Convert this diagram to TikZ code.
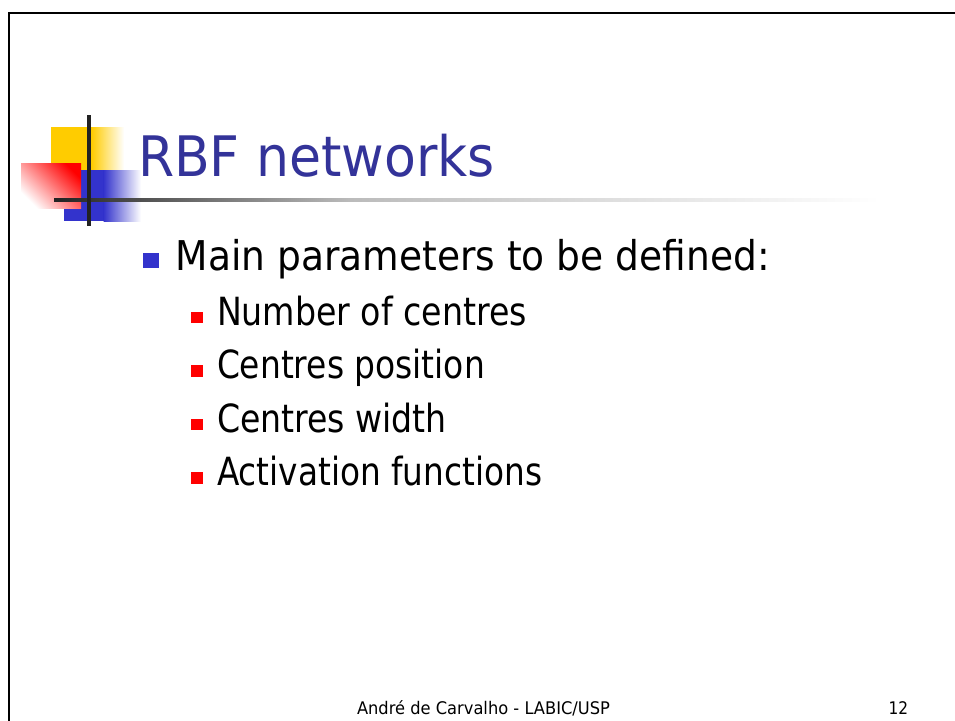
\documentclass[tikz,border=0pt]{standalone}
\usepackage{fontspec}
\setmainfont{DejaVu Sans}
\usepackage{graphicx}
\definecolor{titleblue}{HTML}{333399}
\definecolor{bulletblue}{HTML}{3333CC}
\definecolor{logoyellow}{HTML}{FFCC00}
\definecolor{logoblue}{HTML}{3333CC}
\definecolor{logored}{HTML}{FF0000}
\definecolor{linedark}{HTML}{222222}
\definecolor{lineg1}{HTML}{555555}
\definecolor{lineg2}{HTML}{BBBBBB}
\definecolor{lineg3}{HTML}{DDDDDD}
\newlength\fitlen
\newcommand\fitw[2]{\settowidth\fitlen{#2}\pgfmathsetmacro\fitf{#1/\fitlen}\scalebox{\fitf}[1]{#2}}
\tikzset{
  txt/.style={anchor=base west, inner sep=0pt, outer sep=0pt},
  titletxt/.style={txt, text=titleblue, font=\fontsize{55.8}{60}\selectfont},
  maintxt/.style={txt, text=black, font=\fontsize{41}{45}\selectfont},
  subtxt/.style={txt, text=black, font=\fontsize{38.8}{42}\selectfont},
  foottxt/.style={txt, text=black, font=\fontsize{17.4}{20}\selectfont},
  subbullet/.style={fill=logored},
  hseg/.style={draw=none}
}
\begin{document}
\begin{tikzpicture}[x=1pt,y=1pt]
\useasboundingbox (0,0) rectangle (955,-720);
\fill[white] (0,0) rectangle (955,-720);
% frame
\draw[black, line width=2pt, line join=miter] (9,-725) -- (9,-13) -- (960,-13);
% logo
\fill[logoyellow] (51,-127) rectangle (92,-171);
\shade[left color=logoyellow, right color=white] (91.5,-127) rectangle (124,-171);
\fill[logoblue] (64,-170) rectangle (104,-221);
\shade[left color=logoblue, right color=white] (103.5,-170) rectangle (141,-221);
\shade[top color=logored, bottom color=white, shading angle=-45] (21,-163) rectangle (81,-208);
% horizontal rule
\shade[hseg, left color=linedark, right color=lineg1] (54,-198) rectangle (150.5,-201);
\shade[hseg, left color=lineg1, right color=lineg2] (150,-198) rectangle (350.5,-201);
\shade[hseg, left color=lineg2, right color=lineg3] (350,-198) rectangle (600.5,-201);
\shade[hseg, left color=lineg3, right color=white] (600,-198) rectangle (880,-201);
% vertical rule
\draw[linedark, line width=3.3pt] (89,-115) -- (89,-226);
% title
\node[titletxt] (title) at (138,-176.7) {\fitw{357}{RBF networks}};
% main bullet
\fill[bulletblue] (143.3,-253.3) rectangle (159,-267.7);
\node[maintxt] (main) at (175.7,-270) {\fitw{594}{Main parameters to be defined:}};
% sub bullets
\fill[subbullet] (190.7,-311.7) rectangle (203.3,-323.3);
\node[subtxt] (s1) at (217,-325) {\fitw{310}{Number of centres}};
\fill[subbullet] (190.7,-365.2) rectangle (203.3,-376.8);
\node[subtxt] (s2) at (217,-378.5) {\fitw{268}{Centres position}};
\fill[subbullet] (190.7,-418.7) rectangle (203.3,-430.3);
\node[subtxt] (s3) at (217,-432) {\fitw{230}{Centres width}};
\fill[subbullet] (190.7,-472.2) rectangle (203.3,-483.8);
\node[subtxt] (s4) at (217,-485.5) {\fitw{325}{Activation functions}};
% footer
\node[foottxt] (foot) at (357,-714.3) {\fitw{253}{André de Carvalho - LABIC/USP}};
\node[foottxt] (page) at (888.5,-714.3) {\fitw{19.5}{12}};
\end{tikzpicture}
\end{document}
